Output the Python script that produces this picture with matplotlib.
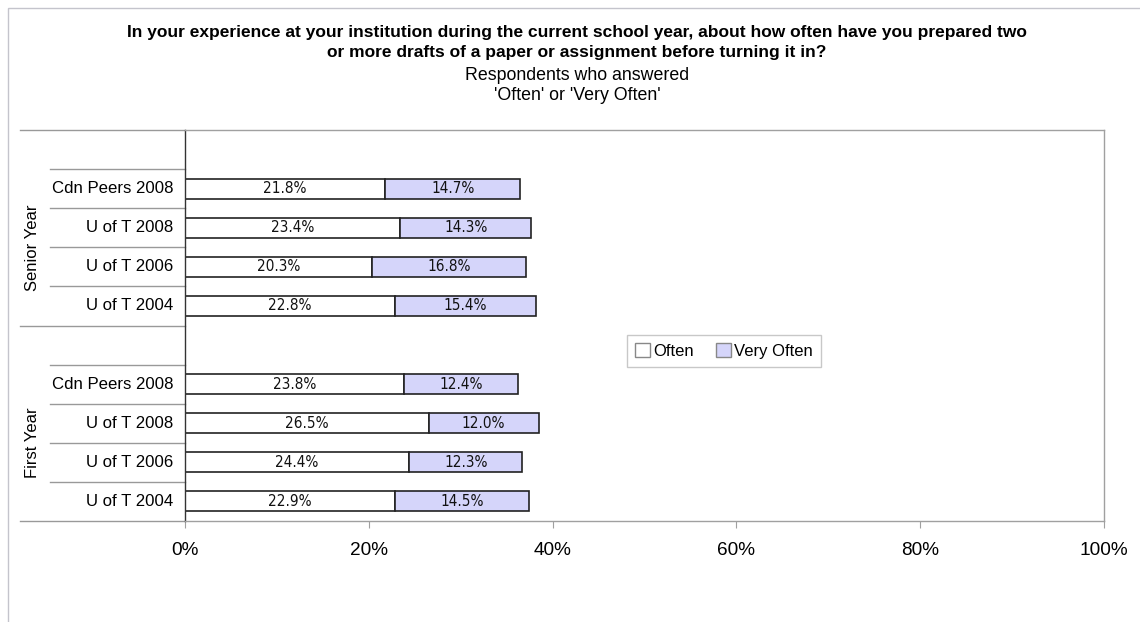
import numpy as np
import matplotlib
matplotlib.use("Agg")
import matplotlib.pyplot as plt
from matplotlib.patches import Rectangle, Patch

# data, bottom to top within each group
groups = ["First Year", "Senior Year"]
categories = ["U of T 2004", "U of T 2006", "U of T 2008", "Cdn Peers 2008"]
first_often = [22.9, 24.4, 26.5, 23.8]
first_very = [14.5, 12.3, 12.0, 12.4]
senior_often = [22.8, 20.3, 23.4, 21.8]
senior_very = [15.4, 16.8, 14.3, 14.7]
xticks = [0, 20, 40, 60, 80, 100]

W, H = 1140, 622
fig = plt.figure(figsize=(W / 100, H / 100), dpi=100)
ax = fig.add_axes([185 / W, 1 - 521 / H, 919 / W, 391 / H])

often = first_often + [np.nan] + senior_often + [np.nan]
very = first_very + [np.nan] + senior_very + [np.nan]
often = np.array(often)
very = np.array(very)
ypos = np.arange(len(often))

c_often = "white"
c_very = "#d5d5fa"
ax.barh(ypos, often, height=0.51, color=c_often, edgecolor="#222222", linewidth=1.2)
ax.barh(ypos, very, left=often, height=0.51, color=c_very, edgecolor="#222222", linewidth=1.2)

# condensed look for the data labels
lab_font = dict(family="DejaVu Sans", fontstretch="condensed", fontsize=11, color="#111111")
for y, o, v in zip(ypos, often, very):
    if np.isnan(o):
        continue
    ax.text(o / 2, y, f"{o:.1f}%", ha="center", va="center", **lab_font)
    ax.text(o + v / 2, y, f"{v:.1f}%", ha="center", va="center", **lab_font)

ax.set_xlim(0, 100)
ax.set_ylim(-0.5, len(often) - 0.5)
ax.set_yticks([])
ax.set_xticks(xticks)
ax.set_xticklabels([f"{t}%" for t in xticks], family="Liberation Sans", fontsize=13.7)
ax.tick_params(axis="x", length=5, color="#a0a0a0", pad=10)

for s in ["top", "right", "bottom"]:
    ax.spines[s].set_color("#a0a0a0")
    ax.spines[s].set_linewidth(1.0)
ax.spines["left"].set_color("#333333")
ax.spines["left"].set_linewidth(1.0)

# category labels and separator lines
x_short = (50 - 185) / 919
x_long = (20 - 185) / 919
for gi, g in enumerate(groups):
    base = gi * 5
    for ci, c in enumerate(categories):
        ax.text(-0.013, base + ci, c, transform=ax.get_yaxis_transform(),
                ha="right", va="center", family="Liberation Sans", fontsize=12.1)
    for k in range(1, 5):
        ax.plot([x_short, 0], [base + k - 0.5] * 2, transform=ax.get_yaxis_transform(),
                color="#999999", lw=1.0, clip_on=False)
    ax.text(x_long + 0.0135, base + 1.5, g, transform=ax.get_yaxis_transform(),
            rotation=90, ha="center", va="center", family="Liberation Sans", fontsize=12)
for yb in [-0.5, 4.5, 9.5]:
    ax.plot([x_long, 0], [yb, yb], transform=ax.get_yaxis_transform(),
            color="#999999", lw=1.0, clip_on=False)

handles = [Patch(facecolor=c_often, edgecolor="#888888", label="Often"),
           Patch(facecolor=c_very, edgecolor="#888888", label="Very Often")]
leg = ax.legend(handles=handles, loc="center", bbox_to_anchor=(0.5865, 0.435), ncol=2,
                frameon=True, fancybox=False, prop=dict(family="Liberation Sans", size=12),
                handlelength=0.9, handleheight=0.9, handletextpad=0.2, columnspacing=1.3,
                borderpad=0.5)
leg.get_frame().set_edgecolor("#bbbbbb")
leg.get_frame().set_linewidth(1.0)

# titles
fig.text(577 / W, 1 - 33 / H, "In your experience at your institution during the current school year, about how often have you prepared two",
         ha="center", va="center", fontsize=12.5, fontweight="bold", family="Liberation Sans")
fig.text(577 / W, 1 - 53 / H, "or more drafts of a paper or assignment before turning it in?",
         ha="center", va="center", fontsize=12.5, fontweight="bold", family="Liberation Sans")
fig.text(577 / W, 1 - 75 / H, "Respondents who answered", ha="center", va="center",
         fontsize=12.8, family="Liberation Sans")
fig.text(577 / W, 1 - 95 / H, "'Often' or 'Very Often'", ha="center", va="center",
         fontsize=12.8, family="Liberation Sans")

# outer chart frame
fig.patches.append(Rectangle((7.5 / W, -0.1), 1.2, 1 - 7.5 / H + 0.1, transform=fig.transFigure,
                             fill=False, edgecolor="#c4c4cc", lw=1.0))

fig.savefig("out.png", dpi=100)
